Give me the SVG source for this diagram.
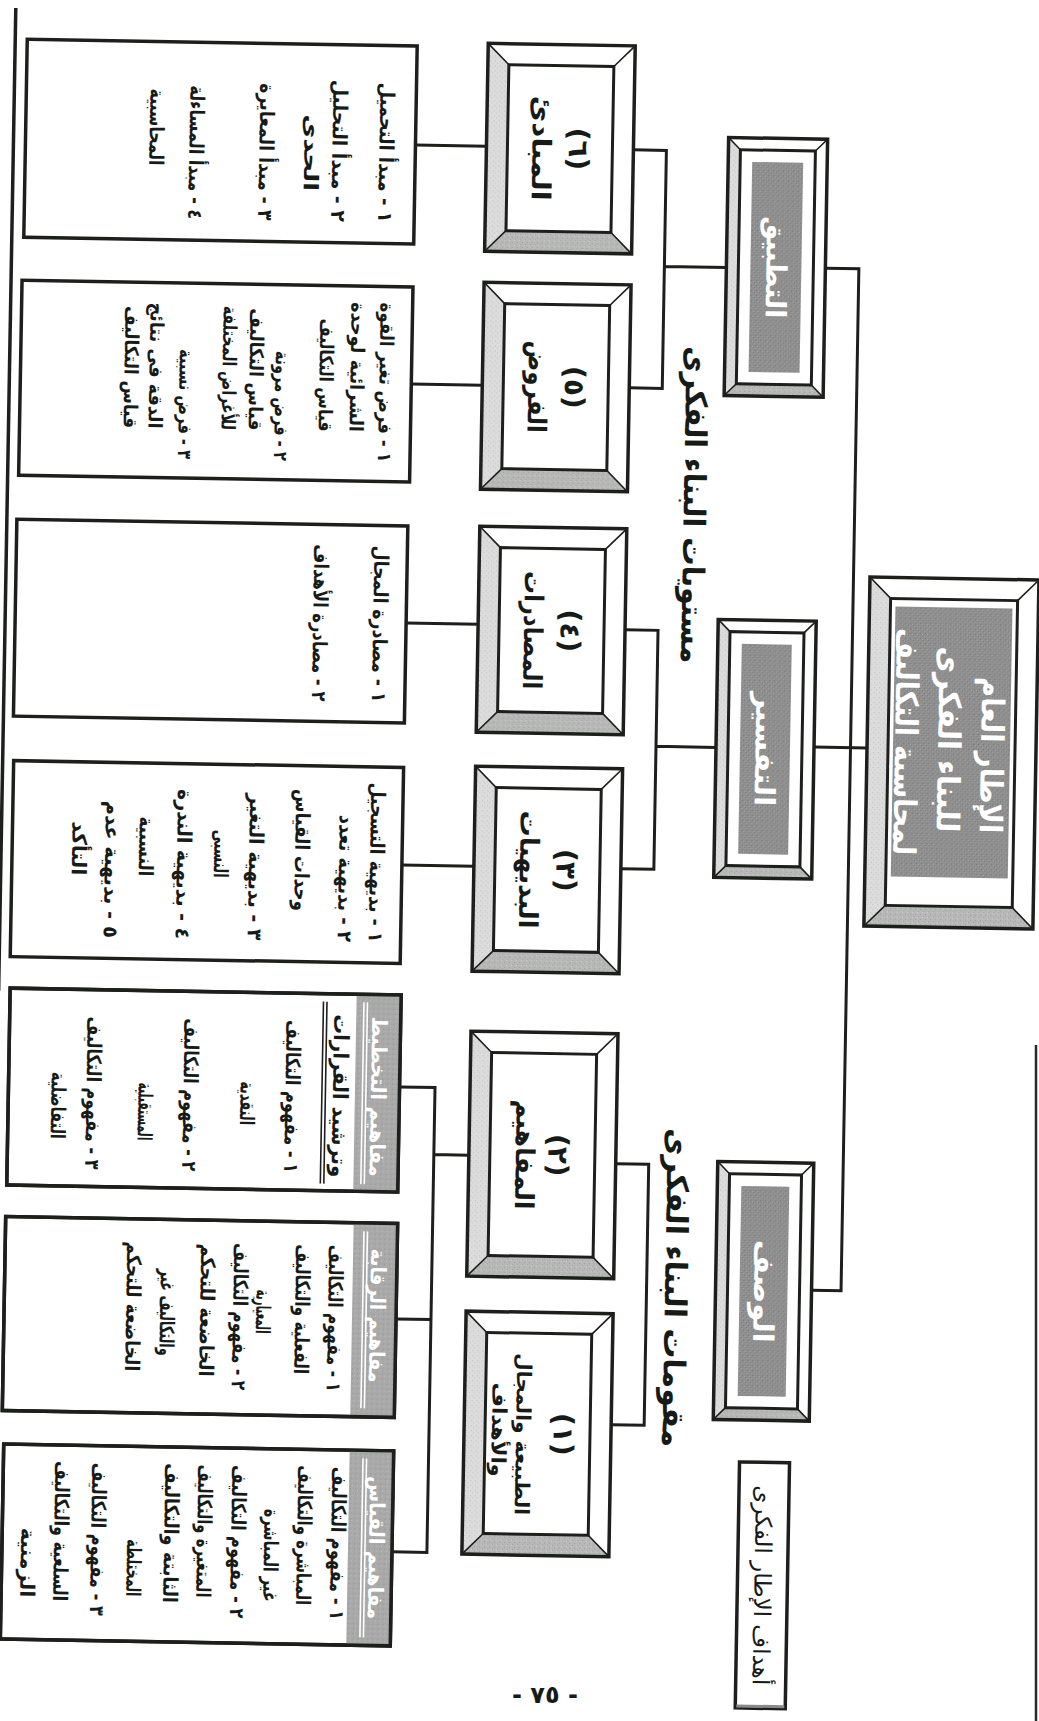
<svg xmlns="http://www.w3.org/2000/svg" width="1039" height="1721" viewBox="0 0 1039 1721">
<defs>
<pattern id="pg" width="5" height="5" patternUnits="userSpaceOnUse">
<rect width="5" height="5" fill="#8f8f8f"/>
<rect x="1" y="1" width="1" height="1" fill="#777"/>
<rect x="3" y="2" width="1" height="1" fill="#a6a6a6"/>
<rect x="0" y="4" width="1" height="1" fill="#a0a0a0"/>
<rect x="4" y="3" width="1" height="1" fill="#7b7b7b"/>
</pattern>
<pattern id="pl" width="5" height="5" patternUnits="userSpaceOnUse">
<rect width="5" height="5" fill="#dcdcdc"/>
<rect x="1" y="1" width="1" height="1" fill="#bdbdbd"/>
<rect x="3" y="3" width="1" height="1" fill="#c4c4c4"/>
</pattern>
<pattern id="pb" width="5" height="5" patternUnits="userSpaceOnUse">
<rect width="5" height="5" fill="#b8b8b8"/>
<rect x="1" y="2" width="1" height="1" fill="#9c9c9c"/>
<rect x="3" y="0" width="1" height="1" fill="#d0d0d0"/>
<rect x="4" y="4" width="1" height="1" fill="#a2a2a2"/>
</pattern>
<pattern id="ps" width="5" height="5" patternUnits="userSpaceOnUse">
<rect width="5" height="5" fill="#a9a9a9"/>
<rect x="1" y="1" width="1" height="1" fill="#929292"/>
<rect x="3" y="3" width="1" height="1" fill="#bdbdbd"/>
</pattern>
</defs>
<style>
.ln{stroke:#1c1f1c;stroke-width:3;fill:none}
.bx{fill:#fff;stroke:#1c1f1c;stroke-width:3.5}
.bo{fill:none;stroke:#1c1f1c;stroke-width:3.5}
.fw{fill:#fff}
.fi{fill:#fff;stroke:#1c1f1c;stroke-width:3}
.sl{fill:url(#pl)}
.sb{fill:url(#pb)}
.dg{stroke:#1c1f1c;stroke-width:1.6;fill:none}
.gr{fill:url(#pg)}
.st{fill:url(#ps)}
.wl{stroke:#fff;stroke-width:1.6}
.bl{stroke:#1c1f1c;stroke-width:1.6}
.t{font-family:'DejaVu Sans',sans-serif;font-weight:bold;fill:#171b18;dominant-baseline:central}
.e{font-size:20px;text-anchor:end}
.s{font-size:19px}
.c{text-anchor:middle}
.w{fill:#fff}
</style>
<rect width="1039" height="1721" fill="#fff"/>
<line x1="1036" y1="1045" x2="1036" y2="1721" stroke="#2a2a2a" stroke-width="2.5"/>
<text class="t c" font-size="24" x="545" y="1695">- ٧٥ -</text>
<g transform="rotate(1 520 860)">
<line x1="1" y1="17" x2="1" y2="1000" stroke="#1c1f1c" stroke-width="3.5"/>

<g id="connectors">
<path class="ln" d="M403 147H474M403 386H474M402 625H474M402 867H474"/>
<path class="ln" d="M621 148H654V386H621M654 264H716"/>
<path class="ln" d="M621 628H654V867H621M654 744H714"/>
<path class="ln" d="M621 1162H654V1423H621"/>
<path class="ln" d="M403.5 1089H439V1554H404M404 1321H439M439 1156H474"/>
<path class="ln" d="M815 263H848.5V1285H819M812 742H865"/>
</g>

<text id="title1" class="t c" font-size="30" textLength="317" lengthAdjust="spacingAndGlyphs" transform="translate(688,502) rotate(90)">مستويات البناء الفكرى</text>
<text id="title2" class="t c" font-size="30" textLength="319" lengthAdjust="spacingAndGlyphs" transform="translate(683,1285) rotate(90)">مقومات البناء الفكرى</text>

<g id="main">
<rect class="fw" x="865" y="571" width="169" height="349"/>
<polygon class="sl" points="865,571 886,592 886,899 865,920"/>
<polygon class="sb" points="865,920 886,899 1013,899 1034,920"/>
<rect class="fi" x="886" y="592" width="127" height="307"/>
<rect class="gr" x="891" y="600" width="117" height="270"/>
<path class="dg" d="M865 571L886 592M1034 571L1013 592M865 920L886 899M1034 920L1013 899"/>
<rect class="bo" x="865" y="571" width="169" height="349"/>
<text class="t c w" font-size="31" textLength="156" lengthAdjust="spacingAndGlyphs" transform="translate(990,747) rotate(90)">الإطار العام</text>
<text class="t c w" font-size="31" textLength="186" lengthAdjust="spacingAndGlyphs" transform="translate(947,732) rotate(90)">للبناء الفكرى</text>
<text class="t c w" font-size="31" textLength="227" lengthAdjust="spacingAndGlyphs" transform="translate(904,735) rotate(90)">لمحاسبة التكاليف</text>
</g>

<g id="tatbiq">
<rect class="fw" x="716" y="134" width="99" height="258"/>
<polygon class="sl" points="716,134 728,146 728,380 716,392"/>
<polygon class="sb" points="716,392 728,380 803,380 815,392"/>
<rect class="fi" x="728" y="146" width="75" height="234"/>
<rect class="gr" x="740" y="158" width="51" height="210"/>
<path class="dg" d="M716 134L728 146M815 134L803 146M716 392L728 380M815 392L803 380"/>
<rect class="bo" x="716" y="134" width="99" height="258"/>
<text class="t c w" font-size="28" textLength="102" lengthAdjust="spacingAndGlyphs" transform="translate(765.5,263) rotate(90)">التطبيق</text>
</g>
<g id="tafsir">
<rect class="fw" x="714" y="616" width="98" height="258"/>
<polygon class="sl" points="714,616 726,628 726,862 714,874"/>
<polygon class="sb" points="714,874 726,862 800,862 812,874"/>
<rect class="fi" x="726" y="628" width="74" height="234"/>
<rect class="gr" x="738" y="640" width="50" height="210"/>
<path class="dg" d="M714 616L726 628M812 616L800 628M714 874L726 862M812 874L800 862"/>
<rect class="bo" x="714" y="616" width="98" height="258"/>
<text class="t c w" font-size="28" textLength="114" lengthAdjust="spacingAndGlyphs" transform="translate(763,745) rotate(90)">التفسير</text>
</g>
<g id="wasf">
<rect class="fw" x="723" y="1158" width="96" height="258"/>
<polygon class="sl" points="723,1158 735,1170 735,1404 723,1416"/>
<polygon class="sb" points="723,1416 735,1404 807,1404 819,1416"/>
<rect class="fi" x="735" y="1170" width="72" height="234"/>
<rect class="gr" x="747" y="1182" width="48" height="210"/>
<path class="dg" d="M723 1158L735 1170M819 1158L807 1170M723 1416L735 1404M819 1416L807 1404"/>
<rect class="bo" x="723" y="1158" width="96" height="258"/>
<text class="t c w" font-size="28" textLength="103" lengthAdjust="spacingAndGlyphs" transform="translate(771,1287) rotate(90)">الوصف</text>
</g>

<g id="n6">
<rect class="fw" x="474" y="44" width="147" height="208"/>
<polygon class="sl" points="474,44 495,65 495,231 474,252"/>
<polygon class="sb" points="474,252 495,231 600,231 621,252"/>
<rect class="fi" x="495" y="65" width="105" height="166"/>
<path class="dg" d="M474 44L495 65M621 44L600 65M474 252L495 231M621 252L600 231"/>
<rect class="bo" x="474" y="44" width="147" height="208"/>
<text class="t c" font-size="28" transform="translate(566,148) rotate(90)">(٦)</text>
<text class="t c" font-size="26" textLength="105" lengthAdjust="spacingAndGlyphs" transform="translate(529,148) rotate(90)">المبادئ</text>
</g>
<g id="n5">
<rect class="fw" x="474" y="283" width="147" height="207"/>
<polygon class="sl" points="474,283 495,304 495,469 474,490"/>
<polygon class="sb" points="474,490 495,469 600,469 621,490"/>
<rect class="fi" x="495" y="304" width="105" height="165"/>
<path class="dg" d="M474 283L495 304M621 283L600 304M474 490L495 469M621 490L600 469"/>
<rect class="bo" x="474" y="283" width="147" height="207"/>
<text class="t c" font-size="28" transform="translate(566,386.5) rotate(90)">(٥)</text>
<text class="t c" font-size="26" textLength="92" lengthAdjust="spacingAndGlyphs" transform="translate(529,386.5) rotate(90)">الفروض</text>
</g>
<g id="n4">
<rect class="fw" x="474" y="527" width="147" height="206"/>
<polygon class="sl" points="474,527 495,548 495,712 474,733"/>
<polygon class="sb" points="474,733 495,712 600,712 621,733"/>
<rect class="fi" x="495" y="548" width="105" height="164"/>
<path class="dg" d="M474 527L495 548M621 527L600 548M474 733L495 712M621 733L600 712"/>
<rect class="bo" x="474" y="527" width="147" height="206"/>
<text class="t c" font-size="28" transform="translate(566,630) rotate(90)">(٤)</text>
<text class="t c" font-size="26" textLength="118" lengthAdjust="spacingAndGlyphs" transform="translate(529,630) rotate(90)">المصادرات</text>
</g>
<g id="n3">
<rect class="fw" x="474" y="767" width="147" height="205"/>
<polygon class="sl" points="474,767 495,788 495,951 474,972"/>
<polygon class="sb" points="474,972 495,951 600,951 621,972"/>
<rect class="fi" x="495" y="788" width="105" height="163"/>
<path class="dg" d="M474 767L495 788M621 767L600 788M474 972L495 951M621 972L600 951"/>
<rect class="bo" x="474" y="767" width="147" height="205"/>
<text class="t c" font-size="28" transform="translate(566,869.5) rotate(90)">(٣)</text>
<text class="t c" font-size="26" textLength="118" lengthAdjust="spacingAndGlyphs" transform="translate(529,869.5) rotate(90)">البديهيات</text>
</g>
<g id="n2">
<rect class="fw" x="474" y="1032" width="147" height="245"/>
<polygon class="sl" points="474,1032 495,1053 495,1256 474,1277"/>
<polygon class="sb" points="474,1277 495,1256 600,1256 621,1277"/>
<rect class="fi" x="495" y="1053" width="105" height="203"/>
<path class="dg" d="M474 1032L495 1053M621 1032L600 1053M474 1277L495 1256M621 1277L600 1256"/>
<rect class="bo" x="474" y="1032" width="147" height="245"/>
<text class="t c" font-size="28" transform="translate(563,1154.5) rotate(90)">(٢)</text>
<text class="t c" font-size="26" textLength="110" lengthAdjust="spacingAndGlyphs" transform="translate(530,1154.5) rotate(90)">المفاهيم</text>
</g>
<g id="n1">
<rect class="fw" x="474" y="1312" width="147" height="243"/>
<polygon class="sl" points="474,1312 495,1333 495,1534 474,1555"/>
<polygon class="sb" points="474,1555 495,1534 600,1534 621,1555"/>
<rect class="fi" x="495" y="1333" width="105" height="201"/>
<path class="dg" d="M474 1312L495 1333M621 1312L600 1333M474 1555L495 1534M621 1555L600 1534"/>
<rect class="bo" x="474" y="1312" width="147" height="243"/>
<text class="t c" font-size="28" transform="translate(573,1433.5) rotate(90)">(١)</text>
<text class="t c" font-size="20" textLength="162" lengthAdjust="spacingAndGlyphs" transform="translate(533,1434) rotate(90)">الطبيعة والمجال</text>
<text class="t c" font-size="20" textLength="94" lengthAdjust="spacingAndGlyphs" transform="translate(509,1430) rotate(90)">والأهداف</text>
</g>

<g id="list6">
<rect class="bx" x="13" y="48" width="390" height="198"/>
<text class="t e" textLength="140" lengthAdjust="spacingAndGlyphs" transform="translate(374,225) rotate(90)">١ - مبدأ التحميل</text>
<text class="t e" textLength="142" lengthAdjust="spacingAndGlyphs" transform="translate(327,225) rotate(90)">٢ - مبدأ التحليل</text>
<text class="t e" textLength="77" lengthAdjust="spacingAndGlyphs" transform="translate(299,195) rotate(90)">الحدى</text>
<text class="t e" textLength="137" lengthAdjust="spacingAndGlyphs" transform="translate(254,225) rotate(90)">٣ - مبدأ المعايرة</text>
<text class="t e" textLength="134" lengthAdjust="spacingAndGlyphs" transform="translate(184,225) rotate(90)">٤ - مبدأ المساءلة</text>
<text class="t e" textLength="77" lengthAdjust="spacingAndGlyphs" transform="translate(144,172) rotate(90)">المحاسبية</text>
</g>
<g id="list5">
<rect class="bx" x="12" y="289" width="391" height="195"/>
<text class="t e s" textLength="160" lengthAdjust="spacingAndGlyphs" transform="translate(378,465) rotate(90)">١ - فرض تغير القوة</text>
<text class="t e s" textLength="130" lengthAdjust="spacingAndGlyphs" transform="translate(349,435) rotate(90)">الشرائية لوحدة</text>
<text class="t e s" textLength="113" lengthAdjust="spacingAndGlyphs" transform="translate(318,435) rotate(90)">قياس التكاليف</text>
<text class="t e s" textLength="110" lengthAdjust="spacingAndGlyphs" transform="translate(274,465) rotate(90)">٢ - فرض مرونة</text>
<text class="t e s" textLength="122" lengthAdjust="spacingAndGlyphs" transform="translate(248,435) rotate(90)">قياس التكاليف</text>
<text class="t e s" textLength="124" lengthAdjust="spacingAndGlyphs" transform="translate(221,435) rotate(90)">للأغراض المختلفة</text>
<text class="t e s" textLength="110" lengthAdjust="spacingAndGlyphs" transform="translate(178,465) rotate(90)">٣ - فرض نسبية</text>
<text class="t e s" textLength="126" lengthAdjust="spacingAndGlyphs" transform="translate(148,435) rotate(90)">الدقة فى نتائج</text>
<text class="t e s" textLength="122" lengthAdjust="spacingAndGlyphs" transform="translate(123,435) rotate(90)">قياس التكاليف</text>
</g>
<g id="list4">
<rect class="bx" x="11" y="528" width="391" height="197"/>
<text class="t e" textLength="157" lengthAdjust="spacingAndGlyphs" transform="translate(376,705) rotate(90)">١ - مصادرة المجال</text>
<text class="t e" textLength="157" lengthAdjust="spacingAndGlyphs" transform="translate(316,705) rotate(90)">٢ - مصادرة الأهداف</text>
</g>
<g id="list3">
<rect class="bx" x="12" y="769.5" width="390" height="196"/>
<text class="t e" textLength="160" lengthAdjust="spacingAndGlyphs" transform="translate(377,945) rotate(90)">١ - بديهية التسجيل</text>
<text class="t e" textLength="127" lengthAdjust="spacingAndGlyphs" transform="translate(346,945) rotate(90)">٢ - بديهية تعدد</text>
<text class="t e" textLength="122" lengthAdjust="spacingAndGlyphs" transform="translate(302,915) rotate(90)">وحدات القياس</text>
<text class="t e" textLength="147" lengthAdjust="spacingAndGlyphs" transform="translate(256,945) rotate(90)">٣ - بديهية التغير</text>
<text class="t e" textLength="48" lengthAdjust="spacingAndGlyphs" transform="translate(221,883) rotate(90)">النسبى</text>
<text class="t e" textLength="150" lengthAdjust="spacingAndGlyphs" transform="translate(184,945) rotate(90)">٤ - بديهية الندرة</text>
<text class="t e" textLength="60" lengthAdjust="spacingAndGlyphs" transform="translate(146,883) rotate(90)">النسبية</text>
<text class="t e" textLength="137" lengthAdjust="spacingAndGlyphs" transform="translate(112,945) rotate(90)">٥ - بديهية عدم</text>
<text class="t e" textLength="54" lengthAdjust="spacingAndGlyphs" transform="translate(79,883) rotate(90)">التأكد</text>
</g>
<g id="list2a">
<rect class="bx" x="12.5" y="997" width="391" height="197"/>
<rect class="st" x="359" y="997" width="44.5" height="197"/>
<rect class="bo" x="12.5" y="997" width="391" height="197"/>
<text class="t c w" font-size="21" textLength="160" lengthAdjust="spacingAndGlyphs" transform="translate(382,1099) rotate(90)">مفاهيم التخطيط</text>
<path class="wl" d="M370 1005V1187M366.5 1005V1187"/>
<text class="t c" font-size="21" textLength="163" lengthAdjust="spacingAndGlyphs" transform="translate(344,1099) rotate(90)">وترشيد القرارات</text>
<path class="bl" d="M329.5 1005V1187M326 1005V1187"/>
<text class="t e" textLength="153" lengthAdjust="spacingAndGlyphs" transform="translate(296.5,1177) rotate(90)">١ - مفهوم التكاليف</text>
<text class="t e" textLength="44" lengthAdjust="spacingAndGlyphs" transform="translate(251.5,1130) rotate(90)">النقدية</text>
<text class="t e" textLength="153" lengthAdjust="spacingAndGlyphs" transform="translate(194.5,1177) rotate(90)">٢ - مفهوم التكاليف</text>
<text class="t e" textLength="58" lengthAdjust="spacingAndGlyphs" transform="translate(149.5,1147) rotate(90)">المستقبلية</text>
<text class="t e" textLength="153" lengthAdjust="spacingAndGlyphs" transform="translate(97.5,1177) rotate(90)">٣ - مفهوم التكاليف</text>
<text class="t e" textLength="67" lengthAdjust="spacingAndGlyphs" transform="translate(62.5,1147) rotate(90)">التفاضلية</text>
</g>
<g id="list2b">
<rect class="bx" x="12" y="1225.5" width="392" height="194"/>
<rect class="st" x="360" y="1225.5" width="44" height="194"/>
<rect class="bo" x="12" y="1225.5" width="392" height="194"/>
<text class="t c w" font-size="21" textLength="134" lengthAdjust="spacingAndGlyphs" transform="translate(385,1318) rotate(90)">مفاهيم الرقابة</text>
<path class="wl" d="M374 1234V1411M370.5 1234V1411"/>
<text class="t e" textLength="147" lengthAdjust="spacingAndGlyphs" transform="translate(343,1395) rotate(90)">١ - مفهوم التكاليف</text>
<text class="t e" textLength="130" lengthAdjust="spacingAndGlyphs" transform="translate(310,1378) rotate(90)">الفعلية والتكاليف</text>
<text class="t e" textLength="44" lengthAdjust="spacingAndGlyphs" transform="translate(271,1338) rotate(90)">المعيارية</text>
<text class="t e" textLength="147" lengthAdjust="spacingAndGlyphs" transform="translate(248,1395) rotate(90)">٢ - مفهوم التكاليف</text>
<text class="t e" textLength="133" lengthAdjust="spacingAndGlyphs" transform="translate(215,1382) rotate(90)">الخاضعة للتحكم</text>
<text class="t e" textLength="87" lengthAdjust="spacingAndGlyphs" transform="translate(175,1362) rotate(90)">والتكاليف غير</text>
<text class="t e" textLength="130" lengthAdjust="spacingAndGlyphs" transform="translate(141,1378) rotate(90)">الخاضعة للتحكم</text>
</g>
<g id="list2c">
<rect class="bx" x="14" y="1453" width="390" height="195"/>
<rect class="st" x="360" y="1453" width="44" height="195"/>
<rect class="bo" x="14" y="1453" width="390" height="195"/>
<text class="t c w" font-size="21" textLength="143" lengthAdjust="spacingAndGlyphs" transform="translate(388,1550) rotate(90)">مفاهيم القياس</text>
<path class="wl" d="M377 1461V1640M373.5 1461V1640"/>
<text class="t e" textLength="153" lengthAdjust="spacingAndGlyphs" transform="translate(350,1623) rotate(90)">١ - مفهوم التكاليف</text>
<text class="t e" textLength="140" lengthAdjust="spacingAndGlyphs" transform="translate(316,1609) rotate(90)">المباشرة والتكاليف</text>
<text class="t e" textLength="93" lengthAdjust="spacingAndGlyphs" transform="translate(283,1606) rotate(90)">غير المباشرة</text>
<text class="t e" textLength="153" lengthAdjust="spacingAndGlyphs" transform="translate(250,1623) rotate(90)">٢ - مفهوم التكاليف</text>
<text class="t e" textLength="133" lengthAdjust="spacingAndGlyphs" transform="translate(216,1603) rotate(90)">المتغيرة والتكاليف</text>
<text class="t e" textLength="140" lengthAdjust="spacingAndGlyphs" transform="translate(183,1609) rotate(90)">الثابتة والتكاليف</text>
<text class="t e" textLength="57" lengthAdjust="spacingAndGlyphs" transform="translate(146,1603) rotate(90)">المختلطة</text>
<text class="t e" textLength="153" lengthAdjust="spacingAndGlyphs" transform="translate(110,1623) rotate(90)">٣ - مفهوم التكاليف</text>
<text class="t e" textLength="140" lengthAdjust="spacingAndGlyphs" transform="translate(73,1609) rotate(90)">السلعية والتكاليف</text>
<text class="t e" textLength="70" lengthAdjust="spacingAndGlyphs" transform="translate(40,1606) rotate(90)">الزمنية</text>
</g>

<g id="goals">
<rect class="bx" x="750" y="1458" width="50" height="246" stroke-width="3"/>
<line x1="751" y1="1702" x2="799" y2="1702" stroke="#8a8a8a" stroke-width="3"/>
<text class="t c" font-size="23" style="font-weight:normal" transform="translate(775,1581) rotate(90)">أهداف الإطار الفكرى</text>
</g>
</g>
</svg>
